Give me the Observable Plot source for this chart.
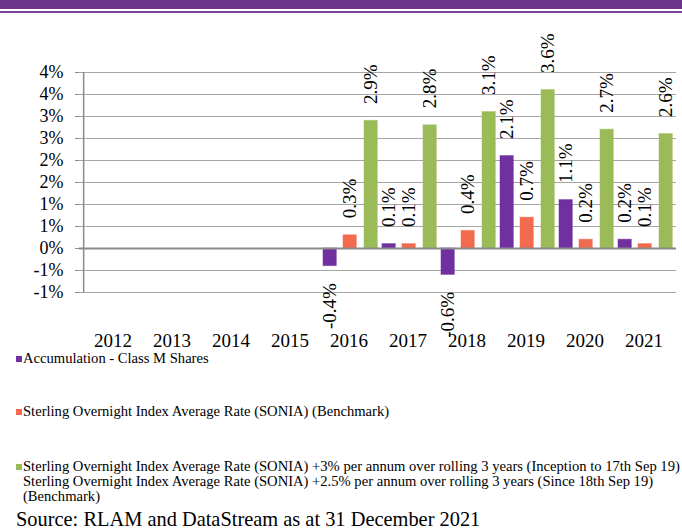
<!DOCTYPE html>
<html>
<head>
<meta charset="utf-8">
<script src="https://cdn.jsdelivr.net/npm/d3@7"></script>
<script src="https://cdn.jsdelivr.net/npm/@observablehq/plot@0.6"></script>
<style>
  html, body { margin: 0; padding: 0; background: #fff; }
  #page { position: relative; width: 682px; height: 531px; overflow: hidden; font-family: "Liberation Serif", "DejaVu Serif", serif; color: #000; }
  #band { position: absolute; left: 0; top: 0; width: 682px; height: 9px; background: #6c3589; }
  #bandline { position: absolute; left: 0; top: 10.5px; width: 682px; height: 2px; background: #7a3fa0; }
  #chart { position: absolute; left: 0; top: 13px; }
  .leg { position: absolute; left: 16px; font-size: 14.6px; line-height: 15px; white-space: nowrap; }
  .sw { display: inline-block; width: 6px; height: 6px; margin-right: 1px; vertical-align: 1px; }
  #source { position: absolute; left: 16px; top: 508px; font-size: 20.4px; white-space: nowrap; }
</style>
</head>
<body>
<div id="page">
  <div id="band"></div>
  <div id="bandline"></div>
  <div id="chart"></div>
  <div id="legend"></div>
  <div id="source"></div>
</div>
<script>
const years = ["2012","2013","2014","2015","2016","2017","2018","2019","2020","2021"];
const dataYears = ["2016","2017","2018","2019","2020","2021"];
const seriesNames = [
  "Accumulation - Class M Shares",
  "Sterling Overnight Index Average Rate (SONIA) (Benchmark)",
  "Sterling Overnight Index Average Rate (SONIA) +3% per annum over rolling 3 years (Inception to 17th Sep 19)"
];
const legendExtra = [
  "Sterling Overnight Index Average Rate (SONIA) +2.5% per annum over rolling 3 years (Since 18th Sep 19)",
  "(Benchmark)"
];
const accumulation = [-0.4, 0.1, -0.6, 2.1, 1.1, 0.2];
const sonia        = [ 0.3, 0.1,  0.4, 0.7, 0.2, 0.1];
const soniaPlus    = [ 2.9, 2.8,  3.1, 3.6, 2.7, 2.6];
const yTicks = [-1, -0.5, 0, 0.5, 1, 1.5, 2, 2.5, 3, 3.5, 4];
const colors = ["#7030a0", "#f26b4f", "#9bbb59"];
const sourceText = "Source: RLAM and DataStream as at 31 December 2021";

const allSeries = [accumulation, sonia, soniaPlus];
const tables = allSeries.map(arr => arr.map((v, i) => ({year: dataYears[i], value: v})));

const fmtTick = d => (d < 0 ? "-" : "") + Math.round(Math.abs(d)) + "%";
const fmtLabel = d => d.toFixed(1) + "%";
const font = "Liberation Serif, DejaVu Serif, serif";

// position of each series' bar inside a year band (Excel-style cluster)
const bandW = (682 - 79 - 6) / years.length;
const slots = [[4, 18], [24, 38], [45, 59]];

const marks = [Plot.gridY(yTicks, {stroke: "#a6a6a6", strokeOpacity: 1, strokeWidth: 1})];
tables.forEach((tbl, si) => {
  const [l, r] = slots[si];
  marks.push(Plot.barY(tbl, {
    x: "year", y: "value", fill: colors[si], stroke: colors[si], strokeOpacity: 0.5,
    insetLeft: l, insetRight: bandW - r
  }));
});
marks.push(Plot.ruleY([0], {stroke: "#8a8a8a", strokeWidth: 2}));
tables.forEach((tbl, si) => {
  const [l, r] = slots[si];
  const dx = (l + r) / 2 - bandW / 2;
  marks.push(Plot.text(tbl.filter(d => d.value >= 0), {
    x: "year", y: "value", text: d => fmtLabel(d.value),
    rotate: -90, textAnchor: "start", lineAnchor: "middle", dx, dy: -17,
    fontSize: 19, fill: "#000"
  }));
  marks.push(Plot.text(tbl.filter(d => d.value < 0), {
    x: "year", y: "value", text: d => fmtLabel(d.value),
    rotate: -90, textAnchor: "end", lineAnchor: "middle", dx, dy: 17,
    fontSize: 19, fill: "#000"
  }));
});
marks.push(Plot.ruleX([years[0]], {y1: -1, y2: 4, dx: -bandW / 2 + 0.5, stroke: "#8a8a8a", strokeWidth: 1.5}));

const chart = Plot.plot({
  width: 682,
  height: 340,
  marginLeft: 79,
  marginRight: 6,
  marginTop: 59,
  marginBottom: 61,
  style: {fontFamily: font, fontSize: "18px", color: "#000", background: "transparent"},
  x: {domain: years, padding: 0, label: null, tickSize: 0, tickPadding: 41, fontSize: 19},
  y: {domain: [-1, 4], ticks: yTicks, tickFormat: fmtTick, tickSize: 4, tickPadding: 12, label: null},
  marks
});
document.getElementById("chart").appendChild(chart);
// axis styling
d3.select(chart).selectAll("[aria-label='x-axis tick label'] text, [aria-label='x-axis'] text").style("font-size", "19px");
d3.select(chart).selectAll("[aria-label='y-axis tick'] path, [aria-label='y-axis'] path").attr("stroke", "#8a8a8a");

// Legend
const legend = document.getElementById("legend");
const legTops = [351, 404, 459];
seriesNames.forEach((name, i) => {
  const div = document.createElement("div");
  div.className = "leg";
  div.style.top = legTops[i] + "px";
  const sw = document.createElement("span");
  sw.className = "sw";
  sw.style.background = colors[i];
  div.appendChild(sw);
  div.appendChild(document.createTextNode(name));
  if (i === 2) {
    legendExtra.forEach(t => {
      div.appendChild(document.createElement("br"));
      const s = document.createElement("span");
      s.style.marginLeft = "7px";
      s.textContent = t;
      div.appendChild(s);
    });
  }
  legend.appendChild(div);
});
document.getElementById("source").textContent = sourceText;
</script>
</body>
</html>
